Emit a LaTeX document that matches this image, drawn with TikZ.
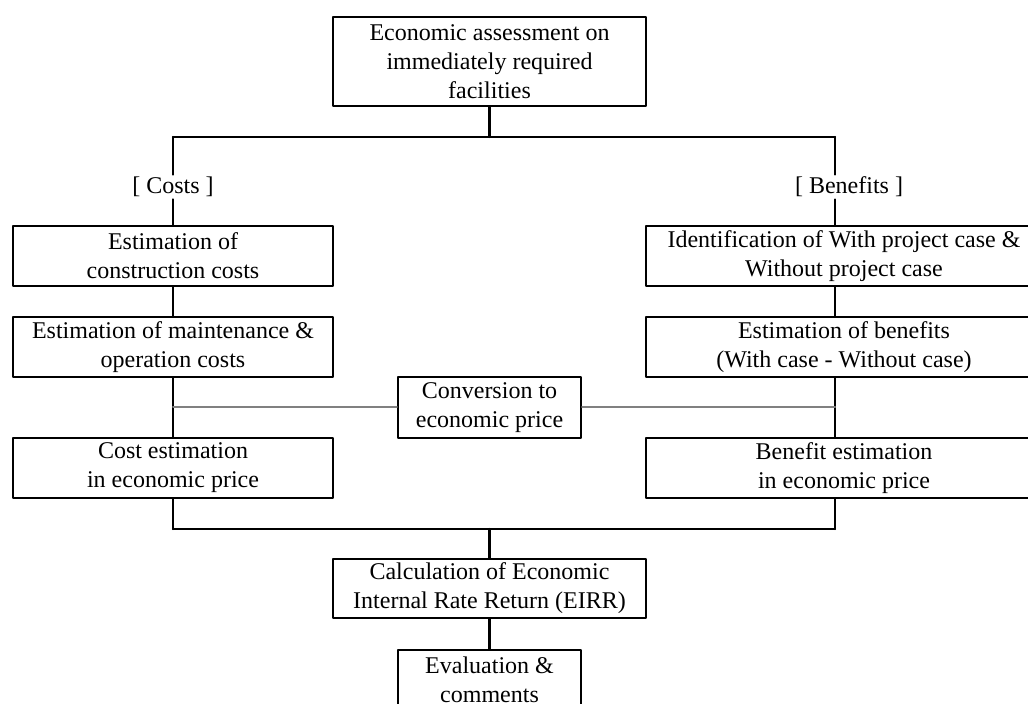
\documentclass[tikz,border=0pt]{standalone}
\usepackage{fontspec}
\setmainfont{Liberation Serif}
\usetikzlibrary{calc}

\begin{document}
\begin{tikzpicture}[x=0.5pt, y=-0.5pt, line join=round, line cap=round,
    box/.style={draw, line width=1.1pt, align=center, inner sep=0pt,
        font=\fontsize{12}{14.5}\selectfont},
    tag/.style={inner sep=1pt, font=\fontsize{12}{14.5}\selectfont},
    link/.style={line width=1.1pt},
    grayline/.style={line width=1pt, draw=black!50}]
    % Page frame
    \useasboundingbox (0,0) rectangle (1028,704);

    % Top box
    \node[box, minimum width=156.5pt, minimum height=44.5pt] (top) at (489.5,61.5)
        {Economic assessment on\\immediately required\\facilities};

    % Branch points
    \coordinate (tbar) at (489.5,137);
    \coordinate (lt) at (173,137);
    \coordinate (rt) at (835,137);
    \coordinate (bbar) at (489.5,529);
    \coordinate (lb) at (173,529);
    \coordinate (rb) at (835,529);

    % Branch labels
    \node[tag] (costs) at (173,187) {[ Costs ]};
    \node[tag] (benefits) at (849,187) {[ Benefits ]};

    % Cost side
    \node[box, minimum width=160pt, minimum height=30pt] (constr) at (173,256)
        {Estimation of\\construction costs};
    \node[box, minimum width=160pt, minimum height=30pt] (maint) at (173,347)
        {Estimation of maintenance \&\\operation costs};
    \node[box, minimum width=160pt, minimum height=30pt] (costeco) at (173,468)
        {Cost estimation\\in economic price};

    % Benefit side
    \node[box, minimum width=198pt, minimum height=30pt] (ident) at (844,256)
        {Identification of With project case \&\\Without project case};
    \node[box, minimum width=198pt, minimum height=30pt] (benef) at (844,347)
        {Estimation of benefits\\(With case - Without case)};
    \node[box, minimum width=198pt, minimum height=30pt] (beneco) at (844,468)
        {Benefit estimation\\in economic price};

    % Conversion in the middle
    \node[box, minimum width=91.5pt, minimum height=30.5pt] (conv) at (489.5,407.5)
        {Conversion to\\economic price};

    % Bottom boxes
    \node[box, minimum width=156.5pt, minimum height=29.5pt] (eirr) at (489.5,588.5)
        {Calculation of Economic\\Internal Rate Return (EIRR)};
    \node[box, minimum width=91.5pt, minimum height=30pt] (evalc) at (489.5,680)
        {Evaluation \&\\comments};

    % Upper tree
    \draw[link] (top) -- (tbar);
    \draw[link] (lt) -- (rt);
    \draw[link] (lt) -- (costs);
    \draw[link] (rt) -- (rt |- benefits.north);

    % Cost column
    \draw[link] (costs) -- (constr);
    \draw[link] (constr) -- (maint);
    \draw[link] (maint) -- (costeco);
    \draw[link] (costeco) -- (lb);

    % Benefit column
    \draw[link] (rt |- benefits.south) -- (rt |- ident.north);
    \draw[link] (rt |- ident.south) -- (rt |- benef.north);
    \draw[link] (rt |- benef.south) -- (rt |- beneco.north);
    \draw[link] (rt |- beneco.south) -- (rb);

    % Grey links to conversion
    \draw[grayline] (conv.west) -- (conv.west -| lt);
    \draw[grayline] (conv.east) -- (conv.east -| rt);

    % Lower tree
    \draw[link] (lb) -- (rb);
    \draw[link] (bbar) -- (eirr);
    \draw[link] (eirr) -- (evalc);
\end{tikzpicture}
\end{document}
